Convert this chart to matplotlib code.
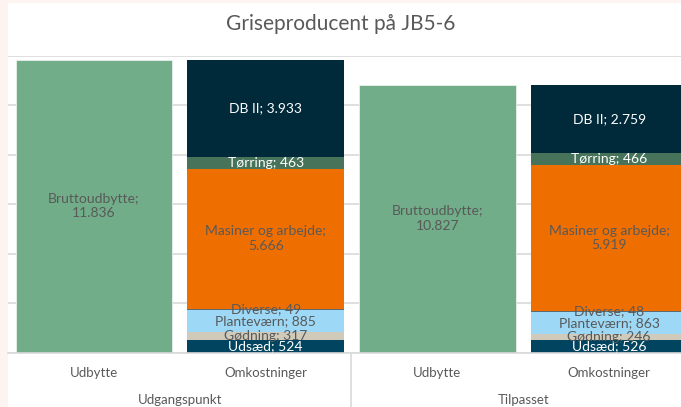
import matplotlib
matplotlib.use("Agg")
import matplotlib.pyplot as plt
from matplotlib.patches import Rectangle

plt.rcParams['font.family'] = ['Lato', 'DejaVu Sans']

title = "Griseproducent på JB5-6"
groups = ["Udgangspunkt", "Tilpasset"]
categories = ["Udbytte", "Omkostninger", "Udbytte", "Omkostninger"]

udbytte_name = "Bruttoudbytte"
udbytte_values = [11836, 10827]

cost_names = ["Udsæd", "Gødning", "Planteværn", "Diverse",
              "Masiner og arbejde", "Tørring", "DB II"]
cost_udgang = [524, 317, 885, 49, 5666, 463, 3933]
cost_tilpas = [526, 246, 863, 48, 5919, 466, 2759]

cost_colors = ["#00445F", "#CFCABA", "#9DD9F6", "#5E6B70",
               "#EF6E00", "#46735A", "#00293A"]
cost_text = ["white", "#595959", "#595959", "#595959",
             "#595959", "white", "white"]
udbytte_color = "#72AD89"
grey = "#595959"

W, H = 681, 407
fig = plt.figure(figsize=(W / 100, H / 100), dpi=100)
fig.patch.set_facecolor("#FDF3F0")
# white chart area
fig.add_artist(Rectangle((8 / W, 0), 1, (H - 3) / H, transform=fig.transFigure,
                         facecolor="white", edgecolor="none", zorder=0))

ax_left, ax_right = 8 / W, 695 / W
ax_bottom, ax_top = (H - 352.7) / H, (H - 55.7) / H
ax = fig.add_axes([ax_left, ax_bottom, ax_right - ax_left, ax_top - ax_bottom])
ax.set_facecolor("none")
ax.set_xlim(-0.5, 3.5)
ax.set_ylim(0, 12000)
ax.set_yticks(range(0, 12001, 2000))
ax.yaxis.grid(True, color="#D9D9D9", linewidth=1.2)
ax.set_axisbelow(True)
for s in ["left", "right", "top"]:
    ax.spines[s].set_visible(False)
ax.spines["bottom"].set_color("#D9D9D9")
ax.spines["bottom"].set_linewidth(1.2)
ax.tick_params(left=False, labelleft=False, bottom=False, labelbottom=False)

bw = 0.91
fs = 10
for gi, (uv, costs) in enumerate(zip(udbytte_values, [cost_udgang, cost_tilpas])):
    xu = gi * 2
    xc = gi * 2 + 1
    ax.bar(xu, uv, width=bw, color=udbytte_color, edgecolor="#E8F0EA", linewidth=0.6, zorder=2)
    ax.text(xu, uv / 2, f"{udbytte_name};\n{uv/1000:.3f}", ha="center", va="center",
            color=grey, fontsize=fs, linespacing=1.25, zorder=4)
    bottom = 0
    for name, v, c, tc in zip(cost_names, costs, cost_colors, cost_text):
        ax.bar(xc, v, width=bw, bottom=bottom, color=c, edgecolor="none", zorder=2)
        val = f"{v/1000:.3f}" if v >= 1000 else f"{v}"
        if name == "Masiner og arbejde":
            lab = f"{name};\n{val}"
        else:
            lab = f"{name}; {val}"
        ax.text(xc, bottom + v / 2, lab, ha="center", va="center", color=tc,
                fontsize=fs, linespacing=1.25, zorder=4)
        bottom += v

# category labels
for i, cat in enumerate(categories):
    x_fig = ax_left + (i + 0.5) / 4 * (ax_right - ax_left)
    fig.text(x_fig, (H - 373) / H, cat, ha="center", va="center", color=grey, fontsize=9.5)
for gi, g in enumerate(groups):
    x_fig = ax_left + (gi * 2 + 1) / 4 * (ax_right - ax_left)
    fig.text(x_fig, (H - 400) / H, g, ha="center", va="center", color=grey, fontsize=9.5)

# group separator
xs = ax_left + 2 / 4 * (ax_right - ax_left)
fig.add_artist(plt.Line2D([xs, xs], [0, ax_bottom], transform=fig.transFigure,
                          color="#D9D9D9", linewidth=1.2))

fig.text(341 / W, (H - 24) / H, title, ha="center", va="center", color=grey, fontsize=15)

fig.savefig("out.png", dpi=100, facecolor=fig.get_facecolor())
